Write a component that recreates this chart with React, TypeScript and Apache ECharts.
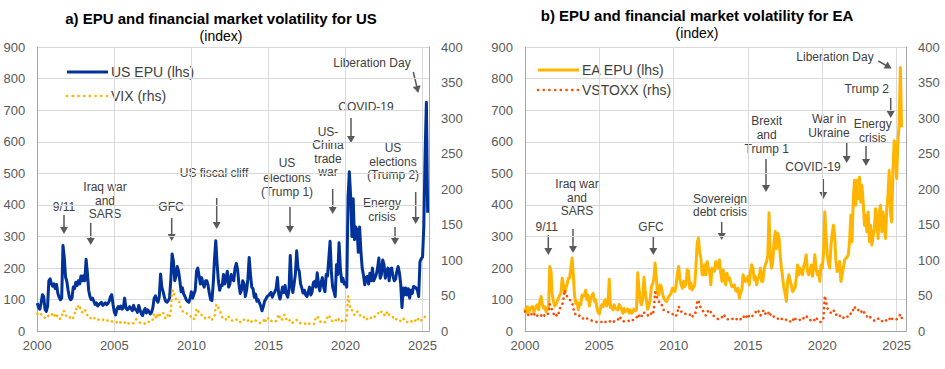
import React, { useEffect, useRef } from "react";
import * as echarts from "echarts";

// ---------------- DATA (monthly, starting Jan 2000) ----------------
const START_YEAR = 2000;
const X_TICKS = [2000, 2005, 2010, 2015, 2020, 2025];
const LEFT_TICKS = [0, 100, 200, 300, 400, 500, 600, 700, 800, 900];
const RIGHT_TICKS = [0, 50, 100, 150, 200, 250, 300, 350, 400];

const US_EPU = [
  /*2000*/ 89, 75, 70, 90, 116, 110, 70, 63, 79, 160, 166, 150,
  /*2001*/ 143, 150, 135, 148, 120, 108, 100, 105, 272, 235, 172, 158,
  /*2002*/ 130, 108, 100, 105, 140, 135, 155, 145, 160, 150, 175, 160,
  /*2003*/ 176, 160, 228, 185, 130, 110, 100, 105, 95, 85, 90, 80,
  /*2004*/ 85, 88, 92, 82, 86, 90, 84, 88, 95, 110, 116, 84,
  /*2005*/ 60, 52, 70, 78, 72, 80, 70, 75, 105, 75, 68, 72,
  /*2006*/ 78, 72, 65, 82, 70, 68, 60, 82, 68, 55, 50, 65,
  /*2007*/ 72, 58, 68, 62, 55, 60, 75, 105, 112, 100, 92, 110,
  /*2008*/ 181, 140, 125, 108, 95, 92, 97, 105, 165, 245, 222, 160,
  /*2009*/ 175, 205, 190, 160, 125, 138, 118, 110, 100, 95, 92, 105,
  /*2010*/ 125, 105, 118, 130, 190, 200, 175, 150, 170, 150, 140, 160,
  /*2011*/ 160, 145, 120, 100, 97, 150, 230, 287, 215, 160, 130, 145,
  /*2012*/ 145, 180, 150, 170, 190, 140, 150, 180, 165, 160, 200, 215,
  /*2013*/ 195, 150, 120, 130, 160, 150, 110, 130, 165, 234, 180, 140,
  /*2014*/ 135, 108, 118, 95, 100, 90, 80, 65, 78, 95, 102, 110,
  /*2015*/ 113, 118, 123, 108, 118, 125, 135, 170, 118, 102, 120, 140,
  /*2016*/ 123, 145, 118, 108, 130, 240, 150, 123, 150, 181, 255, 200,
  /*2017*/ 190, 150, 137, 121, 130, 115, 110, 125, 140, 115, 125, 155,
  /*2018*/ 158, 140, 185, 150, 128, 155, 170, 140, 125, 180, 175, 230,
  /*2019*/ 285, 189, 140, 126, 110, 211, 180, 280, 200, 158, 168, 150,
  /*2020*/ 150, 140, 425, 505, 430, 300, 420, 290, 330, 320, 250, 330,
  /*2021*/ 255, 200, 178, 147, 170, 174, 150, 184, 160, 200, 160, 170,
  /*2022*/ 180, 200, 232, 168, 180, 226, 211, 168, 190, 200, 160, 198,
  /*2023*/ 200, 174, 160, 165, 190, 205, 185, 150, 75, 137, 115, 137,
  /*2024*/ 115, 135, 105, 130, 120, 142, 140, 137, 130, 110, 220, 230,
  /*2025*/ 235, 330, 560, 725, 375,
];

const VIX = [
  /*2000*/ 25, 24, 22, 24, 22, 20, 19, 18, 20, 23, 24, 25,
  /*2001*/ 22, 20, 25, 24, 19, 17, 18, 19, 29, 28, 23, 21,
  /*2002*/ 20, 21, 17, 19, 19, 24, 32, 30, 36, 37, 28, 27,
  /*2003*/ 26, 30, 28, 22, 19, 19, 18, 19, 20, 17, 16, 17,
  /*2004*/ 16, 16, 17, 16, 17, 15, 15, 15, 14, 15, 14, 13,
  /*2005*/ 13, 12, 13, 15, 14, 12, 11, 12, 12, 14, 12, 11,
  /*2006*/ 12, 12, 11, 11.5, 14, 17, 15, 13, 12, 11, 10.5, 10.5,
  /*2007*/ 11, 11.5, 14, 13, 13, 14, 17, 25, 21, 18, 24, 21,
  /*2008*/ 26, 26, 26, 21, 17.5, 21, 24, 20.5, 29, 56, 58, 50,
  /*2009*/ 45, 44, 44, 37, 31, 29, 26, 26, 25, 25, 24, 21.5,
  /*2010*/ 20, 21, 17.5, 17.5, 32, 30, 25, 24, 23, 20, 20, 17.5,
  /*2011*/ 18, 18, 20, 16, 16.5, 18, 19.5, 36, 38, 33, 30, 25,
  /*2012*/ 20, 18, 16, 17, 21, 21, 17, 15.5, 15, 16, 16, 17,
  /*2013*/ 13.5, 14, 13, 13.5, 13.5, 16.5, 14, 14.5, 15, 15.5, 12.5, 14,
  /*2014*/ 14, 16, 15, 14.5, 12.5, 11.5, 12, 13.5, 13.5, 18.5, 13.5, 16,
  /*2015*/ 19, 16, 15, 13.5, 13, 14, 14.5, 19, 24, 17.5, 15.5, 18,
  /*2016*/ 23, 23, 16, 14, 14.5, 16.5, 13.5, 12, 13.5, 15, 16, 12.5,
  /*2017*/ 11.5, 11.5, 11.5, 12, 11, 10.5, 10, 12, 10.5, 10, 10, 10,
  /*2018*/ 11, 21, 20, 19, 14, 13, 13, 12, 12.5, 18, 19.5, 23,
  /*2019*/ 19.5, 15, 14.5, 13, 15.5, 15.5, 13.5, 18, 15.5, 15, 13, 13,
  /*2020*/ 14.5, 18, 50, 40, 30, 30, 26, 23, 27, 28, 25, 22,
  /*2021*/ 23, 23, 21.5, 17.5, 19, 17, 18, 17, 19.5, 18, 19, 21,
  /*2022*/ 23, 25.5, 25.5, 24, 28, 27, 24, 21.5, 26, 28, 23, 22,
  /*2023*/ 20, 19.5, 20.5, 17, 17, 14.5, 14, 15, 15.5, 18.5, 15, 13,
  /*2024*/ 13, 13.5, 13.5, 15, 13, 12.5, 13.5, 18, 16, 18.5, 15.5, 15.5,
  /*2025*/ 17, 17.5, 21, 23, 20,
];

const EA_EPU = [
  /*2000*/ 73, 58, 78, 60, 70, 75, 78, 62, 68, 80, 84, 68,
  /*2001*/ 94, 110, 85, 73, 78, 62, 70, 78, 205, 190, 115, 95,
  /*2002*/ 80, 84, 95, 105, 115, 121, 168, 147, 121, 137, 150, 168,
  /*2003*/ 168, 200, 232, 179, 115, 89, 94, 68, 89, 84, 115, 110,
  /*2004*/ 115, 130, 100, 115, 80, 105, 112, 120, 95, 100, 75, 60,
  /*2005*/ 55, 73, 84, 78, 95, 100, 80, 90, 165, 75, 78, 68,
  /*2006*/ 84, 73, 70, 68, 85, 78, 68, 57, 73, 62, 68, 70,
  /*2007*/ 58, 68, 57, 62, 70, 65, 68, 185, 137, 94, 84, 100,
  /*2008*/ 171, 130, 100, 70, 80, 99, 140, 150, 165, 216, 168, 118,
  /*2009*/ 115, 147, 142, 120, 105, 99, 94, 100, 110, 115, 121, 136,
  /*2010*/ 136, 126, 147, 180, 205, 168, 147, 136, 158, 142, 150, 195,
  /*2011*/ 190, 136, 152, 131, 140, 147, 205, 279, 295, 250, 232, 179,
  /*2012*/ 179, 211, 179, 221, 200, 190, 147, 200, 195, 190, 221, 200,
  /*2013*/ 200, 226, 184, 158, 195, 170, 147, 184, 163, 170, 155, 142,
  /*2014*/ 142, 147, 130, 126, 136, 105, 120, 131, 179, 168, 158, 160,
  /*2015*/ 174, 147, 190, 211, 200, 163, 174, 147, 168, 170, 200, 158,
  /*2016*/ 158, 195, 211, 220, 240, 375, 232, 200, 220, 280, 316, 262,
  /*2017*/ 310, 299, 240, 200, 170, 137, 120, 95, 158, 179, 160, 147,
  /*2018*/ 126, 131, 137, 170, 210, 179, 200, 185, 179, 205, 220, 242,
  /*2019*/ 190, 179, 189, 210, 174, 200, 242, 200, 179, 190, 158, 210,
  /*2020*/ 200, 250, 378, 304, 242, 215, 200, 273, 310, 336, 304, 221,
  /*2021*/ 189, 205, 221, 158, 179, 200, 226, 231, 235, 242, 284, 367,
  /*2022*/ 284, 420, 478, 399, 478, 420, 488, 409, 462, 409, 336, 367,
  /*2023*/ 315, 378, 284, 336, 273, 300, 325, 388, 346, 294, 378, 399,
  /*2024*/ 315, 378, 336, 294, 388, 430, 509, 378, 346, 504, 603, 593,
  /*2025*/ 483, 600, 650, 835, 646,
];

const VSTOXX = [
  /*2000*/ 28, 25, 23, 23, 21, 23, 27, 25, 23, 25, 22, 24,
  /*2001*/ 23, 22, 25, 24, 21, 23, 24, 25, 38, 35, 30, 25,
  /*2002*/ 22, 24, 21, 24, 32, 34, 37, 45, 58, 52, 49, 46,
  /*2003*/ 45, 42, 40, 32, 25, 24, 23, 21, 22, 19, 18, 18,
  /*2004*/ 17, 16, 18, 18, 17, 16, 15, 15, 14, 14, 13, 13,
  /*2005*/ 13, 13, 13, 15, 14, 13, 13, 14, 13, 15, 13, 13,
  /*2006*/ 14, 14, 15, 16, 21, 19, 16, 14, 14, 14, 14, 14,
  /*2007*/ 15, 15, 17, 16, 16, 17, 19, 24, 22, 19, 22, 21,
  /*2008*/ 26, 26, 26, 23, 21, 24, 25, 23, 30, 55, 52, 44,
  /*2009*/ 42, 40, 40, 33, 30, 29, 28, 27, 27, 26, 25, 24,
  /*2010*/ 25, 25, 22, 26, 35, 32, 28, 27, 25, 24, 25, 24,
  /*2011*/ 23, 23, 25, 21, 21, 23, 28, 42, 44, 37, 32, 30,
  /*2012*/ 28, 25, 22, 25, 30, 30, 27, 23, 22, 21, 19, 18,
  /*2013*/ 17, 19, 20, 20, 18, 22, 20, 17, 17, 17, 16, 17,
  /*2014*/ 18, 19, 19, 17, 16, 15, 17, 19, 18, 22, 19, 21,
  /*2015*/ 24, 20, 19, 21, 22, 25, 27, 27, 30, 26, 22, 25,
  /*2016*/ 28, 30, 25, 23, 23, 28, 24, 20, 20, 21, 20, 18,
  /*2017*/ 18, 17, 16, 18, 16, 16, 17, 16, 14, 13, 14, 13,
  /*2018*/ 13, 20, 18, 16, 16, 17, 16, 17, 16, 19, 20, 22,
  /*2019*/ 19, 17, 16, 15, 17, 17, 15, 19, 17, 15, 13, 13,
  /*2020*/ 15, 19, 50, 42, 33, 30, 28, 26, 27, 30, 26, 23,
  /*2021*/ 25, 24, 22, 21, 22, 19, 20, 19, 21, 20, 23, 25,
  /*2022*/ 25, 31, 35, 30, 30, 30, 28, 26, 29, 30, 25, 22,
  /*2023*/ 21, 20, 22, 19, 17, 16, 15, 16, 16, 18, 16, 14,
  /*2024*/ 14, 15, 14, 16, 15, 17, 16, 20, 17, 18, 17, 16,
  /*2025*/ 17, 19, 21, 24, 19, 18, 17, 17,
];

// ---------------- STYLE ----------------
const FONT = '"Liberation Sans", Arial, Helvetica, sans-serif';
const BLUE = "#003299";
const YELLOW = "#FFB400";
const ORANGE = "#FF4B00";
const GRID = "#d9d9d9";
const AXIS = "#a6a6a6";
const LABEL = "#595959";
const NOTE = "#404040";
const ARROW = "#595959";

const toPairs = (arr: number[]) => arr.map((v, i) => [START_YEAR + i / 12, v]);

function text(x: number, y: number, s: string, font: string, fill = NOTE, align = "center") {
  return {
    type: "text",
    x,
    y,
    silent: true,
    style: {
      text: s,
      font,
      fill,
      align,
      verticalAlign: "middle",
      textAlign: align,
      textVerticalAlign: "middle",
    },
  };
}

function note(x: number, ys: number[], lines: string[]) {
  return lines.map((l, i) => text(x, ys[i], l, `12px ${FONT}`));
}

function arrow(x1: number, y1: number, x2: number, y2: number) {
  const dx = x2 - x1;
  const dy = y2 - y1;
  const len = Math.hypot(dx, dy);
  const ux = dx / len;
  const uy = dy / len;
  const hl = 7;
  const hw = 4;
  const bx = x2 - ux * hl;
  const by = y2 - uy * hl;
  return [
    {
      type: "line",
      silent: true,
      shape: { x1, y1, x2: bx + ux * 0.5, y2: by + uy * 0.5 },
      style: { stroke: ARROW, lineWidth: 1.5 },
    },
    {
      type: "polygon",
      silent: true,
      shape: {
        points: [
          [x2, y2],
          [bx - uy * hw, by + ux * hw],
          [bx + uy * hw, by - ux * hw],
        ],
      },
      style: { fill: ARROW },
    },
  ];
}

function legendItem(x1: number, x2: number, y: number, color: string, dotted: boolean, label: string) {
  return [
    {
      type: "line",
      silent: true,
      shape: { x1, y1: y, x2, y2: y },
      style: dotted
        ? { stroke: color, lineWidth: 2.6, lineDash: [0.1, 5.6], lineCap: "round" }
        : { stroke: color, lineWidth: 3 },
    },
    text(x2 + 3, y, label, `14px ${FONT}`, NOTE, "left"),
  ];
}

const xLabelFmt = (v: number) => (X_TICKS.some((t) => Math.abs(t - v) < 1e-6) ? String(v) : "");

function makeX(gridIndex: number, max: number) {
  return {
    type: "value",
    gridIndex,
    min: START_YEAR,
    max,
    interval: 5,
    axisLine: { show: true, lineStyle: { color: AXIS, width: 1 } },
    axisTick: { show: false },
    axisLabel: { fontSize: 13, color: LABEL, fontFamily: FONT, margin: 8, formatter: xLabelFmt, showMaxLabel: true },
    splitLine: { show: true, lineStyle: { color: GRID, width: 1 } },
  };
}

function makeYLeft(gridIndex: number) {
  return {
    type: "value",
    gridIndex,
    position: "left",
    min: LEFT_TICKS[0],
    max: LEFT_TICKS[LEFT_TICKS.length - 1],
    interval: 100,
    axisLine: { show: true, lineStyle: { color: AXIS, width: 1 } },
    axisTick: { show: false },
    axisLabel: { fontSize: 13, color: LABEL, fontFamily: FONT, margin: 12 },
    splitLine: { show: true, lineStyle: { color: GRID, width: 1 } },
  };
}

function makeYRight(gridIndex: number) {
  return {
    type: "value",
    gridIndex,
    position: "right",
    min: RIGHT_TICKS[0],
    max: RIGHT_TICKS[RIGHT_TICKS.length - 1],
    interval: 50,
    axisLine: { show: true, lineStyle: { color: AXIS, width: 1 } },
    axisTick: { show: false },
    axisLabel: { fontSize: 13, color: LABEL, fontFamily: FONT, margin: 12 },
    splitLine: { show: false },
  };
}

export default function App() {
  const ref = useRef<HTMLDivElement | null>(null);

  useEffect(() => {
    if (!ref.current) return;
    const chart = echarts.init(ref.current, undefined, { renderer: "svg" });

    const graphics: any[] = [
      // titles
      text(221, 18, "a) EPU and financial market volatility for US", `bold 15px ${FONT}`, "#000"),
      text(221, 36, "(index)", `14px ${FONT}`, "#000"),
      text(697, 15, "b) EPU and financial market volatility for EA", `bold 15px ${FONT}`, "#000"),
      text(697, 33, "(index)", `14px ${FONT}`, "#000"),
      // legends
      ...legendItem(67, 108, 72, BLUE, false, "US EPU (lhs)"),
      ...legendItem(67, 108, 96, YELLOW, true, "VIX (rhs)"),
      ...legendItem(538, 579, 70, YELLOW, false, "EA EPU (lhs)"),
      ...legendItem(538, 579, 90, ORANGE, true, "VSTOXX (rhs)"),
      // US annotations
      ...note(64, [207], ["9/11"]),
      ...arrow(64, 215, 64, 234),
      ...note(105, [187, 201, 214], ["Iraq war", "and", "SARS"]),
      ...arrow(90.7, 223, 90.7, 245),
      ...note(171, [207], ["GFC"]),
      ...arrow(171.7, 218, 171.7, 241),
      ...note(214, [173], ["US fiscal cliff"]),
      ...arrow(216.7, 198, 216.7, 229),
      ...note(287, [163, 178, 192], ["US", "elections", "(Trump 1)"]),
      ...arrow(290, 207, 290, 233),
      ...note(328, [132, 145, 159, 172], ["US-", "China", "trade", "war"]),
      ...arrow(332.7, 189, 332.7, 214),
      ...note(366, [107], ["COVID-19"]),
      ...arrow(351, 118, 351, 143),
      ...note(393, [148, 162, 175], ["US", "elections", "(Trump 2)"]),
      ...arrow(415.7, 192, 415.7, 224),
      ...note(382, [203, 217], ["Energy", "crisis"]),
      ...arrow(395, 227, 395, 245),
      ...note(372, [63], ["Liberation Day"]),
      ...arrow(413.3, 72, 418.3, 93),
      // EA annotations
      ...note(546.7, [227], ["9/11"]),
      ...arrow(548.3, 235, 548.3, 255),
      ...note(577, [184, 197.5, 211], ["Iraq war", "and", "SARS"]),
      ...arrow(573, 229, 573, 253),
      ...note(651, [227], ["GFC"]),
      ...arrow(653.3, 236, 653.3, 255),
      ...note(720, [198.5, 212], ["Sovereign", "debt crisis"]),
      ...arrow(721.7, 222, 721.7, 240),
      ...note(766.7, [121, 135, 149], ["Brexit", "and", "Trump 1"]),
      ...arrow(766, 159, 766, 192),
      ...note(813, [167], ["COVID-19"]),
      ...arrow(823.3, 179, 823.3, 199),
      ...note(829, [118.5, 133], ["War in", "Ukraine"]),
      ...arrow(846.7, 142, 846.7, 163),
      ...note(872.7, [124, 137.5], ["Energy", "crisis"]),
      ...arrow(866, 146, 866, 166),
      ...note(866.7, [89], ["Trump 2"]),
      ...arrow(890.7, 98, 890.7, 118),
      ...note(835, [57], ["Liberation Day"]),
      ...arrow(878.3, 61, 891.7, 68.5),
    ];

    chart.setOption({
      animation: false,
      backgroundColor: "#ffffff",
      textStyle: { fontFamily: FONT },
      grid: [
        { left: 37.3, right: 516, top: 47, bottom: 37.7, containLabel: false },
        { left: 525, right: 39, top: 47, bottom: 37.7, containLabel: false },
      ],
      xAxis: [makeX(0, 2025.42), makeX(1, 2025.63)],
      yAxis: [makeYLeft(0), makeYRight(0), makeYLeft(1), makeYRight(1)],
      series: [
        {
          name: "US EPU (lhs)",
          type: "line",
          xAxisIndex: 0,
          yAxisIndex: 0,
          data: toPairs(US_EPU),
          showSymbol: false,
          symbol: "none",
          lineStyle: { color: BLUE, width: 3, join: "round" },
          z: 3,
        },
        {
          name: "VIX (rhs)",
          type: "line",
          xAxisIndex: 0,
          yAxisIndex: 1,
          data: toPairs(VIX),
          showSymbol: false,
          symbol: "none",
          lineStyle: { color: YELLOW, width: 2.6, type: [0.1, 5], cap: "round" },
          z: 4,
        },
        {
          name: "EA EPU (lhs)",
          type: "line",
          xAxisIndex: 1,
          yAxisIndex: 2,
          data: toPairs(EA_EPU),
          showSymbol: false,
          symbol: "none",
          lineStyle: { color: YELLOW, width: 3, join: "round" },
          z: 3,
        },
        {
          name: "VSTOXX (rhs)",
          type: "line",
          xAxisIndex: 1,
          yAxisIndex: 3,
          data: toPairs(VSTOXX),
          showSymbol: false,
          symbol: "none",
          lineStyle: { color: ORANGE, width: 2.6, type: [0.1, 5], cap: "round" },
          z: 4,
        },
      ],
      graphic: graphics,
    });

    return () => {
      chart.dispose();
    };
  }, []);

  return (
    <div
      ref={ref}
      style={{ position: "fixed", left: 0, top: 0, width: 945, height: 369, background: "#fff" }}
    />
  );
}
